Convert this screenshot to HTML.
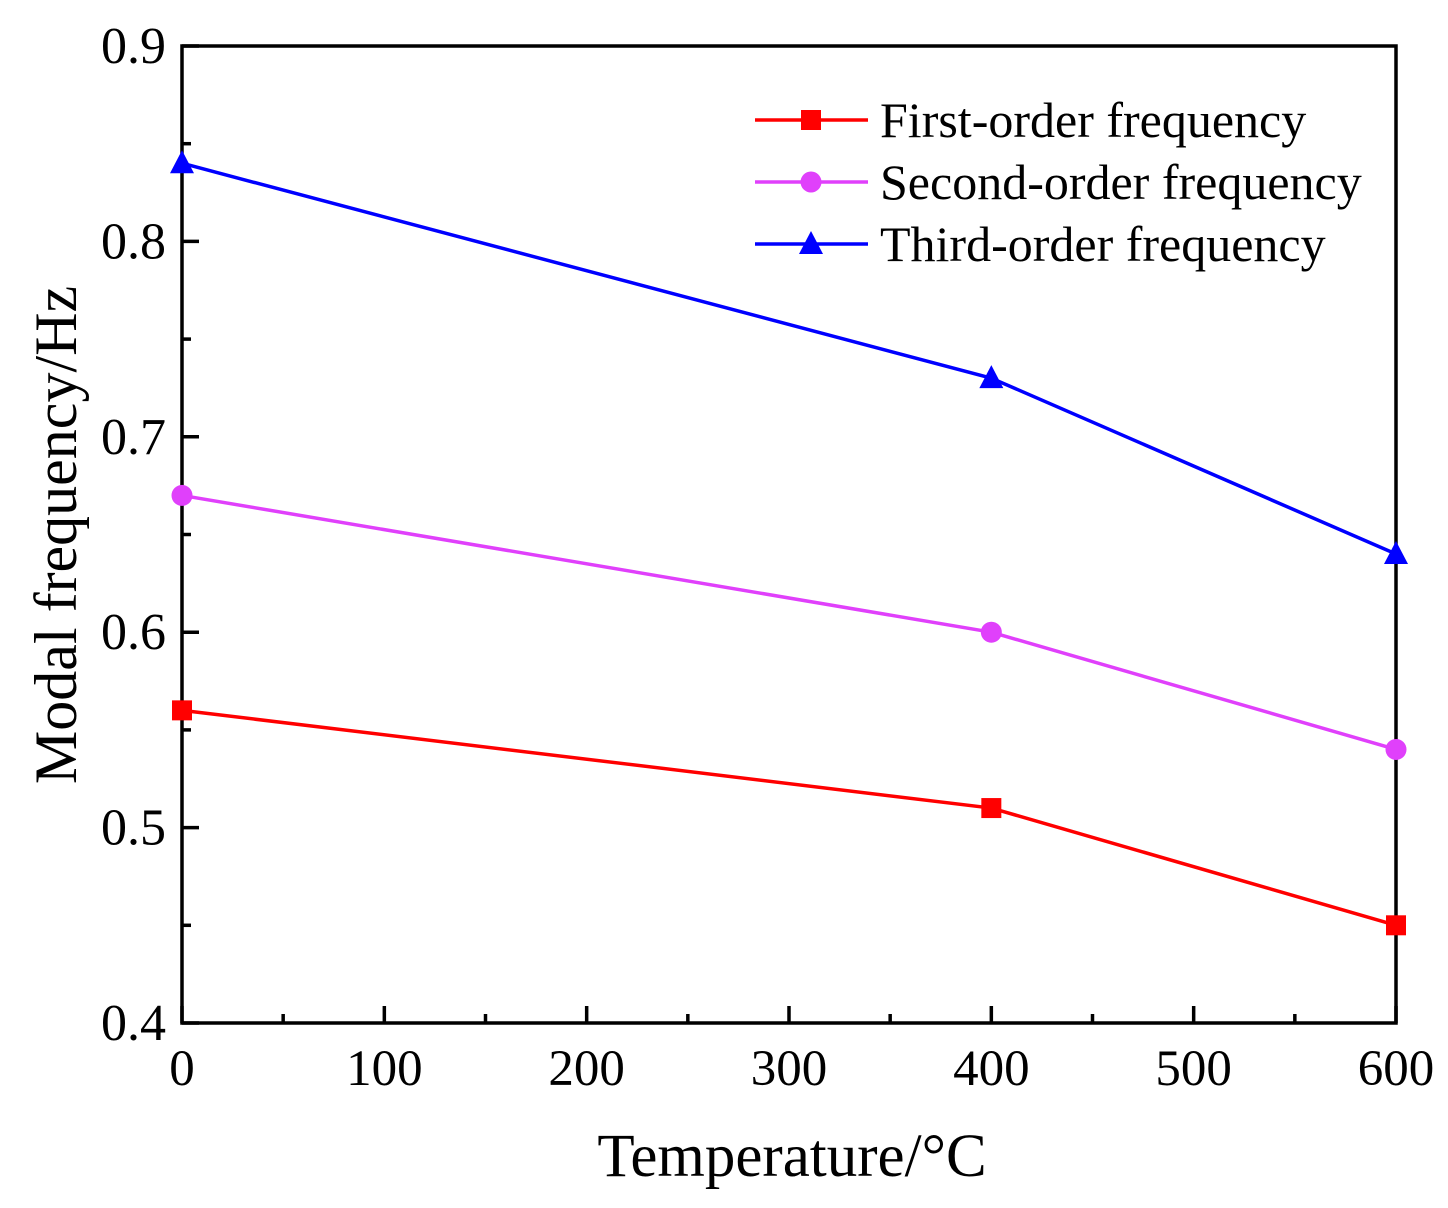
<!DOCTYPE html>
<html><head><meta charset="utf-8"><style>
body{margin:0;background:#fff}
svg text{font-family:"Liberation Serif",serif;fill:#000}
</style></head><body>
<svg id="chart" width="1448" height="1203" viewBox="0 0 1448 1203" xmlns="http://www.w3.org/2000/svg">
<g id="axes"></g><g id="series"></g><g id="legend"></g>
</svg>
<script>
const temps=[0,400,600];
const first=[0.56,0.51,0.45];
const second=[0.67,0.60,0.54];
const third=[0.84,0.73,0.64];
const xTicks=[0,100,200,300,400,500,600];
const yTicks=[0.4,0.5,0.6,0.7,0.8,0.9];
const seriesNames=["First-order frequency","Second-order frequency","Third-order frequency"];

const L=182,R=1396,T=46,B=1023;
const xs=v=>L+(v-0)/600*(R-L);
const ys=v=>B-(v-0.4)/0.5*(B-T);
const NS="http://www.w3.org/2000/svg";
function mk(tag,attrs,parent){const e=document.createElementNS(NS,tag);for(const k in attrs)e.setAttribute(k,attrs[k]);parent.appendChild(e);return e;}
const axes=document.getElementById('axes');
let frame=mk('rect',{x:L,y:T,width:R-L,height:B-T,fill:'none',stroke:'#000','stroke-width':3.5},axes);


xTicks.forEach((v,i)=>{
  let t=mk('line',{x1:xs(v),x2:xs(v),y1:B,y2:B-17,stroke:'#000','stroke-width':3.5},axes);
  
  
  if(i<xTicks.length-1){let m=mk('line',{x1:xs(v+50),x2:xs(v+50),y1:B,y2:B-9,stroke:'#000','stroke-width':3.5},axes);
  
  }
  let l=mk('text',{x:xs(v),y:1085,'text-anchor':'middle','font-size':51},axes);l.textContent=v;
  
  
});
yTicks.forEach((v,i)=>{
  let t=mk('line',{x1:L,x2:L+17,y1:ys(v),y2:ys(v),stroke:'#000','stroke-width':3.5},axes);
  
  
  if(i<yTicks.length-1){let m=mk('line',{x1:L,x2:L+9,y1:ys(v+0.05),y2:ys(v+0.05),stroke:'#000','stroke-width':3.5},axes);
  
  }
  let l=mk('text',{x:166,y:ys(v)+17,'text-anchor':'end','font-size':52},axes);l.textContent=v.toFixed(1);
  
  
});
let xt=mk('text',{x:792,y:1176,'text-anchor':'middle','font-size':61},axes);xt.textContent='Temperature/°C';


let yt=mk('text',{x:0,y:0,'text-anchor':'middle','font-size':60,transform:'translate(76,535) rotate(-90)'},axes);yt.textContent='Modal frequency/Hz';



const data=[first,second,third],colors=['#ff0000','#e040fb','#0000ff'],shapes=['square','circle','triangle'];
const sg=document.getElementById('series');
function marker(shape,x,y,c,g){
  if(shape==='square')return mk('rect',{x:x-10,y:y-10,width:20,height:20,fill:c},g);
  if(shape==='circle')return mk('circle',{cx:x,cy:y,r:10.5,fill:c},g);
  return mk('polygon',{points:`${x},${y-13} ${x-12},${y+10} ${x+12},${y+10}`,fill:c},g);
}
data.forEach((d,si)=>{
  const g=mk('g',{},sg);
  
  
  const pts=d.map((v,i)=>xs(temps[i])+','+ys(v)).join(' ');
  let pl=mk('polyline',{points:pts,fill:'none',stroke:colors[si],'stroke-width':3.5},g);
  
  
  d.forEach((v,i)=>{let m=marker(shapes[si],xs(temps[i]),ys(v),colors[si],g);
    
    });
});
const lg=document.getElementById('legend');
seriesNames.forEach((n,i)=>{
  const y=120+i*62;
  const g=mk('g',{},lg);
  
  
  mk('line',{x1:755,x2:868,y1:y,y2:y,stroke:colors[i],'stroke-width':3.5},g);
  marker(shapes[i],811,y,colors[i],g);
  let t=mk('text',{x:880,y:y+17,'font-size':50},g);t.textContent=n;
});
</script>
</body></html>
